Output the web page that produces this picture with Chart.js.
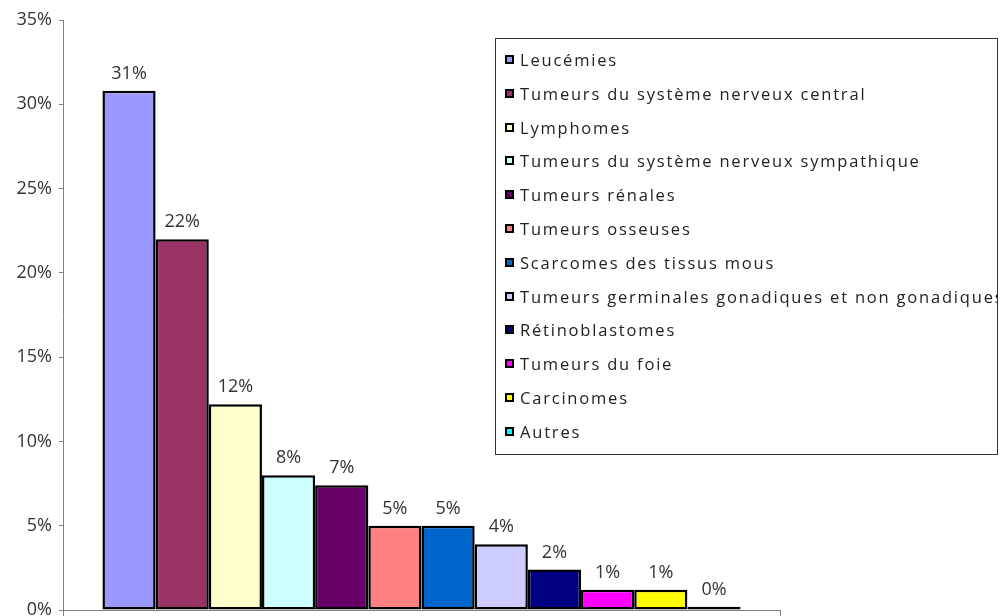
<!DOCTYPE html>
<html lang="fr">
<head>
<meta charset="utf-8">
<title>Répartition des cancers de l'enfant</title>
<script src="https://cdn.jsdelivr.net/npm/chart.js@4/dist/chart.umd.min.js"></script>
<style>
  html, body { margin: 0; padding: 0; background: #fff; }
  #wrap { position: relative; width: 1004px; height: 616px; }
</style>
</head>
<body>
<div id="wrap"><canvas id="chart-cancers"></canvas></div>
<script>
// ============================================================
// DONNÉES
// ============================================================

const categorias = [
  'Leucémies',
  'Tumeurs du système nerveux central',
  'Lymphomes',
  'Tumeurs du système nerveux sympathique',
  'Tumeurs rénales',
  'Tumeurs osseuses',
  'Scarcomes des tissus mous',
  'Tumeurs germinales gonadiques et non gonadiques',
  'Rétinoblastomes',
  'Tumeurs du foie',
  'Carcinomes',
  'Autres'
];

// pourcentages
const valores = [30.8, 22.0, 12.2, 8.0, 7.4, 5.0, 5.0, 3.9, 2.4, 1.2, 1.2, 0.2];

const colores = [
  '#9999ff', '#993366', '#ffffcc', '#ccffff', '#660066', '#ff8080',
  '#0066cc', '#ccccff', '#000080', '#ff00ff', '#ffff00', '#00ffff'
];

const ticksY = [0, 5, 10, 15, 20, 25, 30, 35];

const FUENTE = "'Open Sans', 'DejaVu Sans', sans-serif";

// ============================================================
// PLUGINS
// ============================================================

// étiquettes de valeur au-dessus de chaque barre
const etiquetasPlugin = {
  id: 'etiquetas',
  afterDatasetsDraw(chart) {
    const ctx = chart.ctx;
    ctx.save();
    ctx.font = '18px ' + FUENTE;
    ctx.fillStyle = '#333';
    ctx.textAlign = 'center';
    ctx.textBaseline = 'alphabetic';
    chart.data.datasets.forEach((ds, i) => {
      const bar = chart.getDatasetMeta(i).data[0];
      ctx.fillText(Math.round(ds.data[0]) + '%', bar.x, bar.y - 12);
    });
    ctx.restore();
  }
};

// légende encadrée, posée sur la zone du graphique
const leyendaPlugin = {
  id: 'leyenda',
  afterDraw(chart) {
    const ctx = chart.ctx;
    const x0 = 495, y0 = 38, x1 = 997, y1 = 454;
    const paso = 33.8;
    ctx.save();
    ctx.fillStyle = '#fff';
    ctx.fillRect(x0, y0, x1 - x0, y1 - y0);
    ctx.strokeStyle = '#333';
    ctx.lineWidth = 1;
    ctx.strokeRect(x0 + 0.5, y0 + 0.5, x1 - x0, y1 - y0);

    ctx.beginPath();
    ctx.rect(x0, y0, x1 - x0, y1 - y0);
    ctx.clip();

    ctx.font = '16.5px ' + FUENTE;
    ctx.letterSpacing = '1.8px';
    ctx.textBaseline = 'middle';
    chart.data.datasets.forEach((ds, i) => {
      const y = Math.round(y0 + 22 + i * paso);
      ctx.fillStyle = '#000';
      ctx.fillRect(505, y - 5, 9, 9);
      ctx.fillStyle = ds.backgroundColor;
      ctx.fillRect(507, y - 3, 5, 5);
      ctx.fillStyle = '#222';
      ctx.fillText(ds.label, 520, y + 1);
    });
    ctx.restore();
  }
};

// ============================================================
// GRAPHIQUE
// ============================================================

new Chart(document.getElementById('chart-cancers'), {
  type: 'bar',
  data: {
    labels: [''],
    datasets: categorias.map((cat, i) => ({
      label: cat,
      data: [valores[i]],
      backgroundColor: colores[i],
      borderColor: '#000',
      borderWidth: 2.5,
      borderSkipped: false
    }))
  },
  options: {
    responsive: true,
    maintainAspectRatio: false,
    animation: false,
    categoryPercentage: 0.89,
    barPercentage: 1,
    layout: { padding: { top: 20, right: 224, left: 0, bottom: 0 } },
    plugins: {
      legend: { display: false },
      tooltip: { enabled: false }
    },
    scales: {
      x: {
        ticks: { display: false },
        grid: { drawOnChartArea: false, tickLength: 8, color: '#808080', offset: true },
        border: { color: '#808080' },
        afterFit: s => { s.height = 6; }
      },
      y: {
        min: ticksY[0],
        max: ticksY[ticksY.length - 1],
        afterBuildTicks: s => { s.ticks = ticksY.map(v => ({ value: v })); },
        ticks: {
          callback: v => v + '%',
          color: '#333',
          padding: 7,
          font: { size: 18, family: FUENTE }
        },
        grid: { drawOnChartArea: false, tickLength: 4, color: '#808080' },
        border: { color: '#808080' },
        // le libellé « 0% » déborde en bas comme sur l'original
        afterFit: s => { s.width = 63; s.paddingTop = 0; s.paddingBottom = 0; }
      }
    }
  },
  plugins: [etiquetasPlugin, leyendaPlugin]
});
</script>
</body>
</html>
